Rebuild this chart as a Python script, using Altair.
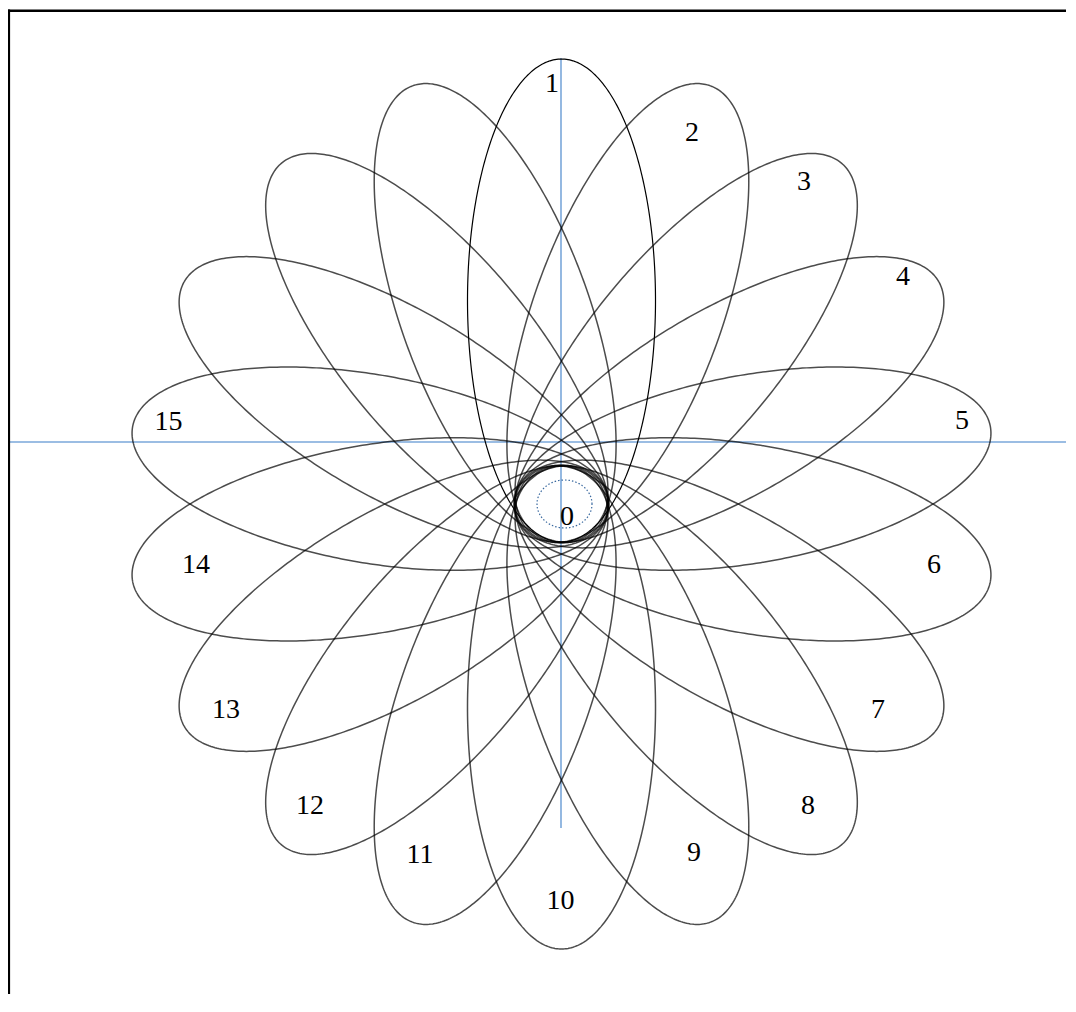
import altair as alt
import numpy as np
import pandas as pd

# ---- data (data units = pixels; pivot of the rosette at 0,0) ----
ellipse_ids = list(range(1, 19))
ellipse_angles = [90, 70, 50, 30, 10, -10, -30, -50, -70, -90,
                  -110, -130, -150, -170, -190, -210, -230, -250]
semi_major = [241.5] * 18
semi_minor = [94] * 18
center_offset_x = [194] * 18     # ellipse centres lie on a slightly flattened ring
center_offset_y = [203.5] * 18

label_text = ["1", "2", "3", "4", "5", "6", "7", "8", "9", "10",
              "11", "12", "13", "14", "15", "0"]
label_x = [-9.5, 130.5, 242.5, 341.5, 400.5, 372.5, 316.5, 246.5, 132.5, -1.0,
           -141.5, -251.5, -335.5, -365.5, -393.0, 5.5]
label_y = [420, 371, 322, 227, 83, -61, -206, -302, -349, -397,
           -351, -302, -206, -61, 82.5, -13]

core_center = [3.0, 0.0]
core_radii = [27.5, 24]

axis_h_y = [62]
axis_v_x = [-0.5]
axis_v_span = [446, -324]

# ---- scale setup ----
W, H = 1058, 986
X_DOM = [-553.5, -553.5 + W]
Y_DOM = [496 - H, 496]
xs = alt.Scale(domain=X_DOM, nice=False, zero=False)
ys = alt.Scale(domain=Y_DOM, nice=False, zero=False)

# ---- build tables ----
t = np.linspace(0, 2 * np.pi, 361)
rows = []
for eid, ang, a, b, dx, dy in zip(ellipse_ids, ellipse_angles, semi_major,
                                  semi_minor, center_offset_x, center_offset_y):
    th = np.deg2rad(ang)
    cx, cy = dx * np.cos(th), dy * np.sin(th)
    for i, tt in enumerate(t):
        ex = a * np.cos(tt)
        ey = b * np.sin(tt)
        rows.append({"id": eid, "i": i,
                     "x": cx + ex * np.cos(th) - ey * np.sin(th),
                     "y": cy + ex * np.sin(th) + ey * np.cos(th)})
ell = pd.DataFrame(rows)

core = pd.DataFrame({"i": range(len(t)),
                     "x": core_center[0] + core_radii[0] * np.cos(t),
                     "y": core_center[1] + core_radii[1] * np.sin(t)})

labels = pd.DataFrame({"text": label_text, "x": label_x, "y": label_y})
hline = pd.DataFrame({"x": [X_DOM[0]], "x2": [X_DOM[1]], "y": axis_h_y})
vline = pd.DataFrame({"x": axis_v_x, "y": [axis_v_span[0]], "y2": [axis_v_span[1]]})

X = lambda f="x": alt.X(f"{f}:Q", scale=xs, axis=None)
Y = lambda f="y": alt.Y(f"{f}:Q", scale=ys, axis=None)

blue = "#7aa7da"

h_rule = alt.Chart(hline).mark_rule(color=blue, strokeWidth=1.6).encode(
    x=X(), x2="x2:Q", y=Y())
v_rule = alt.Chart(vline).mark_rule(color=blue, strokeWidth=1.6).encode(
    x=X(), y=Y(), y2="y2:Q")

others = alt.Chart(ell[ell["id"] != 1]).mark_line(
    color="black", strokeWidth=1.5, strokeOpacity=0.7).encode(
    x=X(), y=Y(), detail="id:N", order="i:Q")
first = alt.Chart(ell[ell["id"] == 1]).mark_line(
    color="black", strokeWidth=1.2).encode(
    x=X(), y=Y(), detail="id:N", order="i:Q")

core_line = alt.Chart(core).mark_line(
    color="#3b6aa0", strokeWidth=1.2, strokeDash=[1.5, 2]).encode(
    x=X(), y=Y(), order="i:Q")

text = alt.Chart(labels).mark_text(
    font="Liberation Serif", fontSize=28, color="black",
    align="center", baseline="middle").encode(
    x=X(), y=Y(), text="text:N")

frame_left = alt.Chart(pd.DataFrame({"k": [0]})).mark_rule(
    color="black", strokeWidth=2.6).encode(
    x=alt.value(0.8), y=alt.value(1.5), y2=alt.value(H))
frame_top = alt.Chart(pd.DataFrame({"k": [0]})).mark_rule(
    color="black", strokeWidth=2.6).encode(
    x=alt.value(0), x2=alt.value(W), y=alt.value(2.7))

chart = alt.layer(h_rule, v_rule, others, first, core_line, text,
                  frame_left, frame_top).properties(
    width=W, height=H,
    autosize=alt.AutoSizeParams(type="none"),
    padding=0,
).configure_view(stroke=None)

chart.save("out.html", embed_options={"renderer": "svg", "actions": False})
